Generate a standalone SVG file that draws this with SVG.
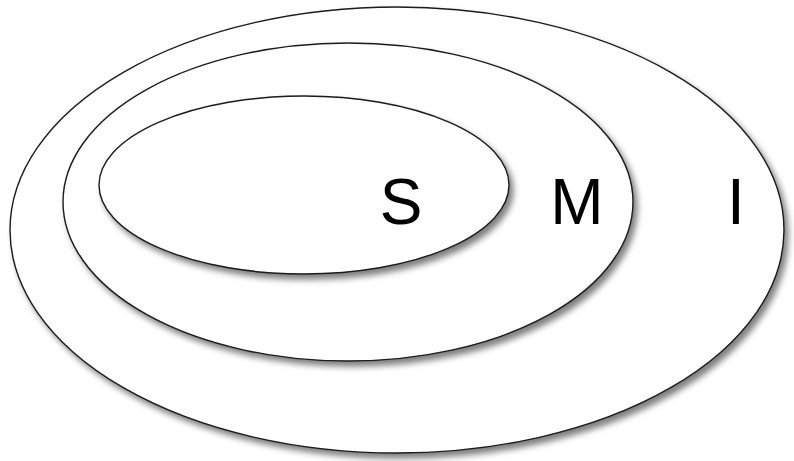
<svg xmlns="http://www.w3.org/2000/svg" width="794" height="461" viewBox="0 0 794 461">
<defs>
<style>
.ring{fill:#fff;stroke:#1a1a1a;stroke-width:1.4;}
.lbl{font-family:"Liberation Sans",Arial,sans-serif;font-size:64px;fill:#000;text-anchor:middle;}
</style>
<filter id="sh" x="-10%" y="-10%" width="125%" height="125%">
<feGaussianBlur in="SourceAlpha" stdDeviation="3"/>
<feOffset dx="4" dy="5"/>
<feComponentTransfer><feFuncA type="linear" slope="0.5"/></feComponentTransfer>
<feMerge><feMergeNode/><feMergeNode in="SourceGraphic"/></feMerge>
</filter>
</defs>
<rect width="794" height="461" fill="#fff"/>
<g id="I"><ellipse class="ring" filter="url(#sh)" cx="397" cy="230" rx="387" ry="223"/></g>
<g id="M"><ellipse class="ring" filter="url(#sh)" cx="348" cy="202" rx="285" ry="159"/></g>
<g id="S"><ellipse class="ring" filter="url(#sh)" cx="304" cy="185" rx="205" ry="89"/></g>
<g id="labels">
<text class="lbl" x="401" y="224">S</text>
<text class="lbl" x="577" y="224">M</text>
<text class="lbl" x="736" y="224">I</text>
</g>
<g id="connectors"/>
</svg>
